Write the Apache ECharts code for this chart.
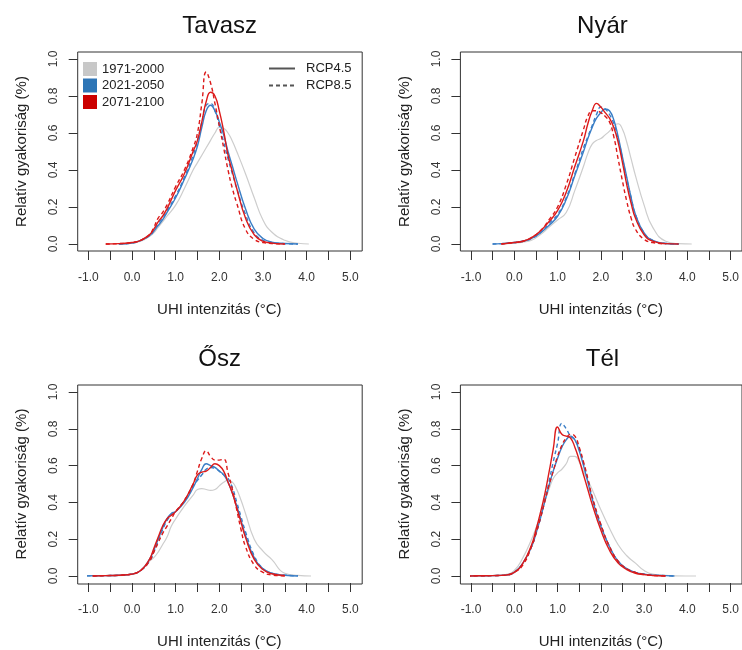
<!DOCTYPE html>
<html>
<head>
<meta charset="utf-8">
<script src="https://cdn.jsdelivr.net/npm/echarts@6/dist/echarts.min.js"></script>
<style>
  body { margin: 0; background: #fff; }
  #main { width: 742px; height: 650px; }
</style>
</head>
<body>
<div id="main"></div>
<script>
// UHI intenzitás (°C) sűrűséggörbék évszakonként
const seasons = ['Tavasz', 'Nyár', 'Ősz', 'Tél'];
const periods = ['1971-2000', '2021-2050', '2071-2100'];
const scenarios = ['RCP4.5', 'RCP8.5'];
const xTicks = [-1, 0, 1, 2, 3, 4, 5];
const yTicks = [0, 0.2, 0.4, 0.6, 0.8, 1.0];

// Tavasz
const xTavasz = [-0.6,-0.3,0.0,0.2,0.4,0.5,0.6,0.7,0.8,1.0,1.2,1.4,1.5,1.6,1.7,1.8,1.9,2.0,2.1,2.2,2.3,2.4,2.6,2.8,3.0,3.2,3.5,3.8,4.05];
const tavaszRef = [null,0,0.005,0.015,0.04,0.06,0.09,0.12,0.15,0.21,0.30,0.40,0.44,0.48,0.52,0.56,0.60,0.63,0.625,0.60,0.555,0.50,0.38,0.25,0.13,0.065,0.02,0.004,0];
const tavasz2050_45 = [null,0,0.005,0.02,0.045,0.07,0.10,0.13,0.17,0.25,0.35,0.46,0.53,0.63,0.72,0.75,0.72,0.66,0.59,0.50,0.42,0.34,0.19,0.08,0.03,0.01,0.003,0,null];
const tavasz2050_85 = [null,0,0.005,0.02,0.045,0.07,0.11,0.14,0.18,0.26,0.36,0.48,0.56,0.66,0.75,0.76,0.72,0.64,0.55,0.46,0.38,0.30,0.16,0.06,0.02,0.008,0.002,0,null];
const tavasz2100_45 = [0,0.002,0.008,0.02,0.05,0.08,0.12,0.15,0.19,0.29,0.38,0.50,0.56,0.66,0.77,0.82,0.80,0.72,0.61,0.48,0.39,0.30,0.14,0.05,0.015,0.005,0,null,null];
const tavasz2100_85 = [0,0.002,0.008,0.02,0.05,0.09,0.14,0.17,0.21,0.31,0.40,0.52,0.60,0.76,0.93,0.87,0.76,0.64,0.52,0.40,0.30,0.22,0.08,0.025,0.008,0.003,0,null,null];

// Nyár
const xNyar = [-0.5,-0.3,0.0,0.2,0.4,0.6,0.8,1.0,1.2,1.4,1.6,1.7,1.8,1.9,2.0,2.1,2.2,2.3,2.4,2.5,2.6,2.7,2.8,3.0,3.2,3.5,3.8,4.1];
const nyarRef = [null,0,0.005,0.01,0.02,0.05,0.09,0.13,0.17,0.29,0.42,0.49,0.54,0.56,0.57,0.59,0.61,0.64,0.65,0.62,0.55,0.46,0.37,0.21,0.09,0.015,0.002,0];
const nyar2050_45 = [0,0.002,0.008,0.015,0.03,0.06,0.10,0.15,0.24,0.37,0.50,0.57,0.63,0.68,0.71,0.73,0.72,0.67,0.58,0.47,0.36,0.25,0.16,0.06,0.02,0.003,0,null];
const nyar2050_85 = [0,0.002,0.008,0.015,0.03,0.06,0.11,0.16,0.25,0.38,0.52,0.58,0.64,0.70,0.74,0.73,0.70,0.65,0.57,0.46,0.35,0.25,0.16,0.06,0.02,0.003,0,null];
const nyar2100_45 = [null,0,0.008,0.015,0.035,0.07,0.12,0.18,0.28,0.42,0.56,0.65,0.72,0.76,0.74,0.71,0.68,0.63,0.55,0.44,0.32,0.22,0.14,0.05,0.015,0.002,0,null];
const nyar2100_85 = [null,0,0.008,0.015,0.035,0.07,0.13,0.20,0.32,0.47,0.62,0.69,0.72,0.72,0.71,0.69,0.66,0.58,0.46,0.34,0.23,0.14,0.08,0.025,0.008,0,null,null];

// Ősz
const xOsz = [-1.2,-0.9,-0.6,-0.3,0.0,0.2,0.4,0.5,0.6,0.7,0.8,0.9,1.0,1.2,1.4,1.5,1.6,1.7,1.8,1.9,2.0,2.1,2.2,2.3,2.4,2.5,2.6,2.8,3.0,3.2,3.5,3.8,4.1];
const oszRef = [null,null,0,0.002,0.008,0.03,0.08,0.10,0.13,0.17,0.21,0.27,0.31,0.38,0.44,0.47,0.475,0.47,0.465,0.47,0.49,0.51,0.52,0.51,0.47,0.41,0.34,0.20,0.135,0.09,0.015,0.003,0];
const osz2050_45 = [0,0.001,0.002,0.004,0.01,0.03,0.09,0.14,0.20,0.26,0.31,0.34,0.35,0.40,0.48,0.53,0.58,0.61,0.60,0.59,0.57,0.55,0.51,0.45,0.38,0.30,0.22,0.10,0.04,0.015,0.004,0,null];
const osz2050_85 = [0,0.001,0.002,0.004,0.01,0.03,0.08,0.13,0.19,0.25,0.30,0.33,0.35,0.41,0.49,0.52,0.55,0.58,0.59,0.585,0.57,0.55,0.53,0.48,0.40,0.32,0.24,0.11,0.04,0.015,0.005,0.001,null];
const osz2100_45 = [null,0,0.002,0.004,0.01,0.03,0.09,0.15,0.21,0.27,0.31,0.33,0.35,0.41,0.50,0.55,0.565,0.57,0.59,0.61,0.60,0.57,0.51,0.45,0.37,0.29,0.21,0.09,0.035,0.012,0.003,null,null];
const osz2100_85 = [null,0,0.002,0.004,0.01,0.03,0.08,0.13,0.18,0.23,0.27,0.31,0.35,0.41,0.50,0.57,0.64,0.68,0.65,0.63,0.63,0.635,0.56,0.47,0.36,0.25,0.16,0.06,0.02,0.006,0,null,null];

// Tél
const xTel = [-1.1,-0.8,-0.5,-0.2,0.0,0.2,0.4,0.5,0.6,0.7,0.8,0.9,1.0,1.1,1.2,1.3,1.4,1.5,1.6,1.7,1.8,2.0,2.2,2.4,2.6,2.8,3.0,3.2,3.5,3.7,4.2];
const telRef = [null,0,0.002,0.008,0.03,0.10,0.20,0.26,0.32,0.40,0.47,0.53,0.56,0.58,0.61,0.65,0.65,0.62,0.57,0.52,0.47,0.36,0.26,0.17,0.11,0.07,0.03,0.01,0.003,0.001,0];
const tel2050_45 = [0,0.001,0.002,0.005,0.02,0.07,0.16,0.23,0.31,0.40,0.49,0.57,0.64,0.70,0.74,0.76,0.74,0.68,0.60,0.51,0.42,0.27,0.16,0.08,0.04,0.02,0.01,0.005,0.002,0,null];
const tel2050_85 = [0,0.001,0.002,0.005,0.02,0.07,0.16,0.23,0.31,0.41,0.51,0.62,0.72,0.83,0.80,0.76,0.74,0.69,0.61,0.52,0.43,0.28,0.16,0.08,0.04,0.02,0.01,0.005,0.002,0,null];
const tel2100_45 = [0,0.001,0.002,0.005,0.02,0.07,0.17,0.25,0.34,0.44,0.56,0.69,0.81,0.77,0.76,0.75,0.70,0.63,0.55,0.47,0.39,0.25,0.14,0.07,0.035,0.015,0.008,0.003,0,null,null];
const tel2100_85 = [0,0.001,0.002,0.005,0.02,0.06,0.16,0.23,0.31,0.40,0.49,0.57,0.65,0.71,0.75,0.77,0.76,0.70,0.62,0.53,0.43,0.28,0.16,0.08,0.04,0.02,0.008,0.003,0,null,null];

const panelData = [
    { x: xTavasz, curves: [tavaszRef, tavasz2050_45, tavasz2050_85, tavasz2100_45, tavasz2100_85] },
    { x: xNyar, curves: [nyarRef, nyar2050_45, nyar2050_85, nyar2100_45, nyar2100_85] },
    { x: xOsz, curves: [oszRef, osz2050_45, osz2050_85, osz2100_45, osz2100_85] },
    { x: xTel, curves: [telRef, tel2050_45, tel2050_85, tel2100_45, tel2100_85] }
];

const FONT = 'Liberation Sans, Arial, sans-serif';
const GRAY = '#cdcdcd', BLUE = '#3a7ec6', RED = '#dc1a1a';
const curveStyle = [
    { name: periods[0], color: GRAY, type: 'solid', width: 1.2 },
    { name: periods[1], color: BLUE, type: 'solid', width: 1.4 },
    { name: periods[1], color: BLUE, type: [4, 3], width: 1.4 },
    { name: periods[2], color: RED, type: 'solid', width: 1.4 },
    { name: periods[2], color: RED, type: [4, 3], width: 1.4 }
];

const colLeft = [88.3, 471];
const rowTop = [59, 392];
const plotW = 262, plotH = 185;

let grids = [], xAxes = [], yAxes = [], series = [], titles = [];

function pairs(xs, ys) {
    let out = [];
    for (let i = 0; i < xs.length; i++) {
        if (ys[i] !== null) out.push([xs[i], ys[i]]);
    }
    return out;
}

seasons.forEach(function (name, p) {
    let left = colLeft[p % 2], top = rowTop[Math.floor(p / 2)];
    let boxLeft = left - 10.6;

    // data grid (-1..5, 0..1)
    grids.push({ left: left, top: top, width: plotW, height: plotH });
    xAxes.push({
        gridIndex: p, type: 'value', min: -1, max: 5, interval: 0.5,
        offset: 7,
        axisLine: { show: false, onZero: false },
        axisTick: { show: true, length: 9, lineStyle: { color: '#333' } },
        splitLine: { show: false },
        axisLabel: {
            margin: 21, color: '#333', fontSize: 12, fontFamily: FONT,
            formatter: function (v) { return xTicks.indexOf(v) >= 0 ? v.toFixed(1) : ''; }
        },
        name: 'UHI intenzitás (°C)', nameLocation: 'middle', nameGap: 51,
        nameTextStyle: { fontSize: 15, color: '#222', fontFamily: FONT }
    });
    yAxes.push({
        gridIndex: p, type: 'value', min: 0, max: 1, interval: 0.2,
        offset: 10.6,
        axisLine: { show: false, onZero: false },
        axisTick: { show: true, length: 9, lineStyle: { color: '#333' } },
        splitLine: { show: false },
        axisLabel: {
            margin: 18, rotate: 90, color: '#333', fontSize: 12, fontFamily: FONT,
            formatter: function (v) { return yTicks.indexOf(v) >= 0 ? v.toFixed(1) : ''; }
        },
        name: 'Relatív gyakoriság (%)', nameLocation: 'middle', nameGap: 48,
        nameTextStyle: { fontSize: 15, color: '#222', fontFamily: FONT }
    });

    titles.push({
        text: name, left: boxLeft + 142, top: top - 45, textAlign: 'center', padding: 0,
        textStyle: { fontSize: 24, fontWeight: 'normal', color: '#111', fontFamily: FONT }
    });

    let d = panelData[p];
    d.curves.forEach(function (ys, k) {
        let st = curveStyle[k];
        series.push({
            name: st.name, type: 'line', xAxisIndex: p, yAxisIndex: p,
            data: pairs(d.x, ys), showSymbol: false, symbol: 'none',
            smooth: 0.5, clip: false, silent: true,
            z: k === 0 ? 2 : 3,
            itemStyle: { color: st.color },
            lineStyle: { color: st.color, type: st.type, width: st.width }
        });
    });
});

// frame boxes
seasons.forEach(function (name, p) {
    let left = colLeft[p % 2], top = rowTop[Math.floor(p / 2)];
    grids.push({
        left: left - 10.6, top: top - 7, width: 284.5, height: 199,
        show: true, borderColor: '#333', borderWidth: 1, backgroundColor: 'transparent'
    });
    xAxes.push({ gridIndex: 4 + p, type: 'value', show: false, min: 0, max: 1 });
    yAxes.push({ gridIndex: 4 + p, type: 'value', show: false, min: 0, max: 1 });
});

// dummy series for the scenario legend
scenarios.forEach(function (s, i) {
    series.push({
        name: s, type: 'line', xAxisIndex: 0, yAxisIndex: 0, data: [],
        symbol: 'none', itemStyle: { color: '#555' },
        lineStyle: { color: '#555', width: 1, type: i === 0 ? 'solid' : [4, 3] }
    });
});

let myChart = echarts.init(document.getElementById('main'));
myChart.setOption({
    animation: false,
    title: titles,
    legend: [
        {
            orient: 'vertical', left: 83, top: 62, itemWidth: 14, itemHeight: 14, itemGap: 2.5,
            padding: 0, selectedMode: false, icon: 'rect',
            textStyle: { fontSize: 13, color: '#222', fontFamily: FONT },
            data: [
                { name: periods[0], itemStyle: { color: '#c8c8c8' } },
                { name: periods[1], itemStyle: { color: '#2e75b6' } },
                { name: periods[2], itemStyle: { color: '#cc0000' } }
            ]
        },
        {
            orient: 'vertical', left: 268, top: 62, itemWidth: 26, itemHeight: 2, itemGap: 4,
            padding: 0, selectedMode: false,
            textStyle: { fontSize: 13, color: '#222', fontFamily: FONT, padding: [0, 0, 0, 6] },
            data: scenarios.map(function (s) {
                return { name: s, itemStyle: { color: 'rgba(0,0,0,0)', borderWidth: 0 } };
            })
        }
    ],
    grid: grids,
    xAxis: xAxes,
    yAxis: yAxes,
    series: series
});
</script>
</body>
</html>
